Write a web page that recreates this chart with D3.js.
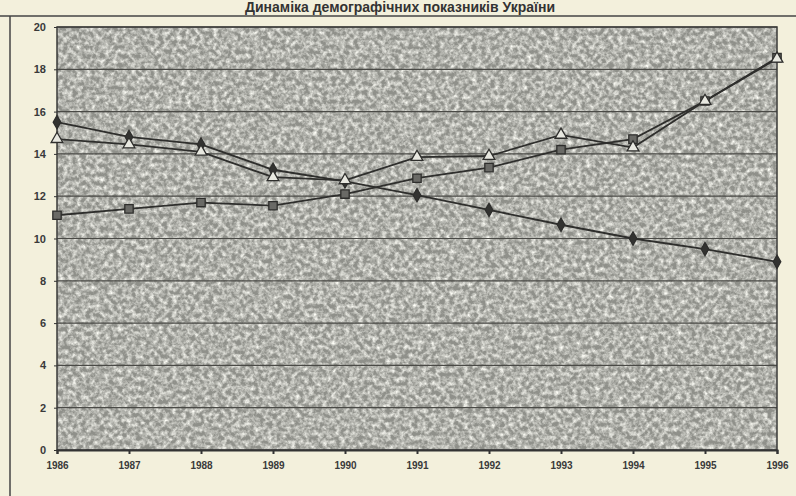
<!DOCTYPE html>
<html>
<head>
<meta charset="utf-8">
<script src="https://cdn.jsdelivr.net/npm/d3@7"></script>
<style>
  body { margin: 0; background: #f3f0dc; }
  #chart { width: 796px; height: 496px; }
  text { font-family: "Liberation Sans", Arial, sans-serif; }
</style>
</head>
<body>
<div id="chart"></div>
<script>
const title = "Динаміка демографічних показників України";
const years = [1986, 1987, 1988, 1989, 1990, 1991, 1992, 1993, 1994, 1995, 1996];
const yTicks = [0, 2, 4, 6, 8, 10, 12, 14, 16, 18, 20];

// три ряди
const birthRate = [15.5, 14.8, 14.45, 13.25, 12.7, 12.05, 11.35, 10.65, 10.0, 9.5, 8.9];
const deathRate = [11.1, 11.4, 11.7, 11.55, 12.1, 12.85, 13.35, 14.2, 14.7, 16.5, 18.55];
const thirdRate = [14.7, 14.45, 14.1, 12.9, 12.75, 13.85, 13.9, 14.9, 14.3, 16.5, 18.5];

const width = 796;
const height = 496;
const margin = { top: 27, right: 19, bottom: 46, left: 57 };

const svg = d3.select("#chart").append("svg")
    .attr("width", width)
    .attr("height", height);

const defs = svg.append("defs");
const noise = defs.append("filter")
    .attr("id", "speckle")
    .attr("x", 0).attr("y", 0).attr("width", 1).attr("height", 1);
noise.append("feTurbulence")
    .attr("type", "fractalNoise")
    .attr("baseFrequency", 0.22)
    .attr("numOctaves", 3)
    .attr("seed", 7)
    .attr("result", "t");
noise.append("feColorMatrix")
    .attr("in", "t")
    .attr("type", "matrix")
    .attr("values", "0 0 0 0 1  0 0 0 0 1  0 0 0 0 0.94  1.8 0 0 0 -0.6");

const x = d3.scaleLinear()
    .domain([years[0], years[years.length - 1]])
    .range([margin.left, width - margin.right]);

const y = d3.scaleLinear()
    .domain([0, 20])
    .range([height - margin.bottom, margin.top]);

// рамка сторінки
svg.append("line")
    .attr("x1", 0).attr("x2", width)
    .attr("y1", 16).attr("y2", 16)
    .attr("stroke", "#444").attr("stroke-width", 1.5);
svg.append("line")
    .attr("x1", 10).attr("x2", 10)
    .attr("y1", 16).attr("y2", height)
    .attr("stroke", "#444").attr("stroke-width", 1.5);

svg.append("text")
    .attr("x", 400)
    .attr("y", 12)
    .attr("text-anchor", "middle")
    .attr("font-size", 14)
    .attr("font-weight", "bold")
    .attr("fill", "#333")
    .text(title);

// сіре поле з крапчастою фактурою
const plotW = width - margin.left - margin.right;
const plotH = height - margin.top - margin.bottom;
svg.append("rect")
    .attr("x", margin.left).attr("y", margin.top)
    .attr("width", plotW).attr("height", plotH)
    .attr("fill", "#8f908a");
svg.append("rect")
    .attr("x", margin.left).attr("y", margin.top)
    .attr("width", plotW).attr("height", plotH)
    .attr("fill", "#fff")
    .attr("filter", "url(#speckle)");

// сітка
svg.append("g")
    .selectAll("line")
    .data(yTicks.slice(1))
    .enter()
    .append("line")
    .attr("x1", margin.left).attr("x2", width - margin.right)
    .attr("y1", d => y(d)).attr("y2", d => y(d))
    .attr("stroke", "#4a4a46")
    .attr("stroke-width", 1.2);

svg.append("rect")
    .attr("x", margin.left).attr("y", margin.top)
    .attr("width", plotW).attr("height", plotH)
    .attr("fill", "none")
    .attr("stroke", "#3a3a38")
    .attr("stroke-width", 1.5);

// осі
const xAxis = d3.axisBottom(x)
    .tickValues(years)
    .tickFormat(d3.format("d"))
    .tickSize(4)
    .tickPadding(8);
svg.append("g")
    .attr("transform", `translate(0,${height - margin.bottom})`)
    .call(xAxis)
    .call(g => g.select(".domain").attr("stroke", "#333").attr("stroke-width", 2))
    .call(g => g.selectAll(".tick line").attr("stroke", "#333").attr("stroke-width", 2))
    .call(g => g.selectAll("text")
        .attr("font-size", 10).attr("font-weight", "bold").attr("fill", "#3a3a3a"));

const yAxis = d3.axisLeft(y)
    .tickValues(yTicks)
    .tickSize(3)
    .tickPadding(8);
svg.append("g")
    .attr("transform", `translate(${margin.left},0)`)
    .call(yAxis)
    .call(g => g.select(".domain").remove())
    .call(g => g.selectAll(".tick line").attr("stroke", "#333"))
    .call(g => g.selectAll("text")
        .attr("font-size", 11).attr("font-weight", "bold").attr("fill", "#3a3a3a"));

// лінії
const line = d3.line()
    .x((d, i) => x(years[i]))
    .y(d => y(d));

const series = [
    { values: birthRate, symbol: d3.symbolDiamond, fill: "#333331", size: 50 },
    { values: deathRate, symbol: d3.symbolSquare, fill: "#6a6a66", size: 70 },
    { values: thirdRate, symbol: d3.symbolTriangle, fill: "#e8e8e0", size: 60 }
];

series.forEach(s => {
    svg.append("path")
        .datum(s.values)
        .attr("fill", "none")
        .attr("stroke", "#2e2e2c")
        .attr("stroke-width", 1.8)
        .attr("d", line);
});

series.forEach(s => {
    svg.append("g")
        .selectAll("path")
        .data(s.values)
        .enter()
        .append("path")
        .attr("transform", (d, i) => `translate(${x(years[i])},${y(d)})`)
        .attr("d", d3.symbol().type(s.symbol).size(s.size))
        .attr("fill", s.fill)
        .attr("stroke", "#2e2e2c")
        .attr("stroke-width", 1.3);
});
</script>
</body>
</html>
